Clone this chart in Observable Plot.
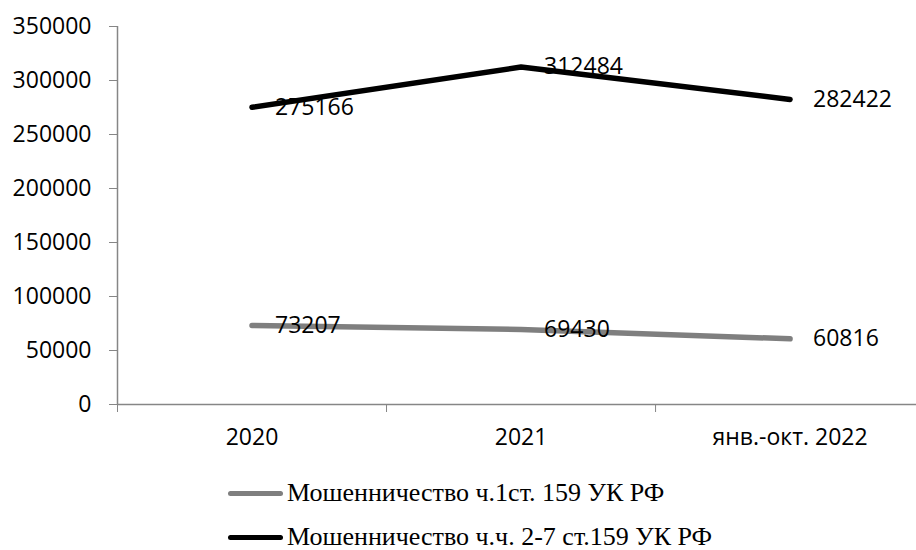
<!DOCTYPE html>
<html>
<head>
<meta charset="utf-8">
<script src="https://cdn.jsdelivr.net/npm/d3@7"></script>
<script src="https://cdn.jsdelivr.net/npm/@observablehq/plot@0.6"></script>
<style>
  html, body { margin: 0; padding: 0; background: #fff; overflow: hidden; }
  #chart svg { display: block; }
  .legend { font-family: "Liberation Serif", "Times New Roman", serif; font-size: 26px; line-height: 1; color: #000; padding-left: 228px; margin-top: 9px; }
  .legend .row { height: 44px; display: flex; align-items: center; }
  .legend .sw { width: 55px; height: 5px; border-radius: 3px; margin-right: 4px; }
</style>
</head>
<body>
<div id="chart"></div>
<div class="legend" id="legend"></div>
<script>
const categories = ["2020", "2021", "янв.-окт. 2022"];
const seriesNames = ["Мошенничество ч.1ст. 159 УК РФ", "Мошенничество ч.ч. 2-7 ст.159 УК РФ"];
const part1 = [73207, 69430, 60816];
const part2to7 = [275166, 312484, 282422];
const colors = ["#7f7f7f", "#000000"];
const yTicks = [0, 50000, 100000, 150000, 200000, 250000, 300000, 350000];

const rows = [];
[part1, part2to7].forEach((vals, s) => {
  vals.forEach((v, i) => rows.push({series: seriesNames[s], i, cat: categories[i], value: v}));
});

const font = "'Open Sans', Lato, sans-serif";
const axisGrey = "#868686";

const chart = Plot.plot({
  width: 916,
  height: 462,
  marginLeft: 117,
  marginRight: 0,
  marginTop: 26,
  marginBottom: 58,
  style: {fontFamily: font, fontSize: "23px", color: "#000", background: "#fff"},
  x: {type: "linear", domain: [-0.5, 2.47]},
  y: {domain: [0, 350000]},
  color: {domain: seriesNames, range: colors},
  marks: [
    Plot.ruleX([-0.5], {y1: 0, y2: 350000, stroke: axisGrey, strokeWidth: 1.5}),
    Plot.ruleY([0], {stroke: axisGrey, strokeWidth: 1.5}),
    Plot.axisY({ticks: yTicks, tickSize: 8, tickPadding: 18, stroke: axisGrey, fill: "#000", fontSize: 23, tickFormat: d => String(d), label: null}),
    Plot.axisX({ticks: [-0.5, 0.5, 1.5, 2.5], tickSize: 8, stroke: axisGrey, tickFormat: () => "", label: null}),
    Plot.axisX({ticks: [0, 1, 2], tickSize: 0, tickPadding: 24, fill: "#000", fontSize: 23, tickFormat: d => categories[d], label: null}),
    Plot.line(rows, {x: "i", y: "value", z: "series", stroke: "series", strokeWidth: 5.5, strokeLinecap: "round", strokeLinejoin: "round"}),
    Plot.text(rows, {x: "i", y: "value", text: d => String(d.value), dx: 23, textAnchor: "start", fontSize: 23, fill: "#000"})
  ]
});
document.getElementById("chart").appendChild(chart);

const legend = document.getElementById("legend");
seriesNames.forEach((name, s) => {
  const row = document.createElement("div");
  row.className = "row";
  const sw = document.createElement("span");
  sw.className = "sw";
  sw.style.background = colors[s];
  const t = document.createElement("span");
  t.textContent = name;
  row.appendChild(sw);
  row.appendChild(t);
  legend.appendChild(row);
});
</script>
</body>
</html>
